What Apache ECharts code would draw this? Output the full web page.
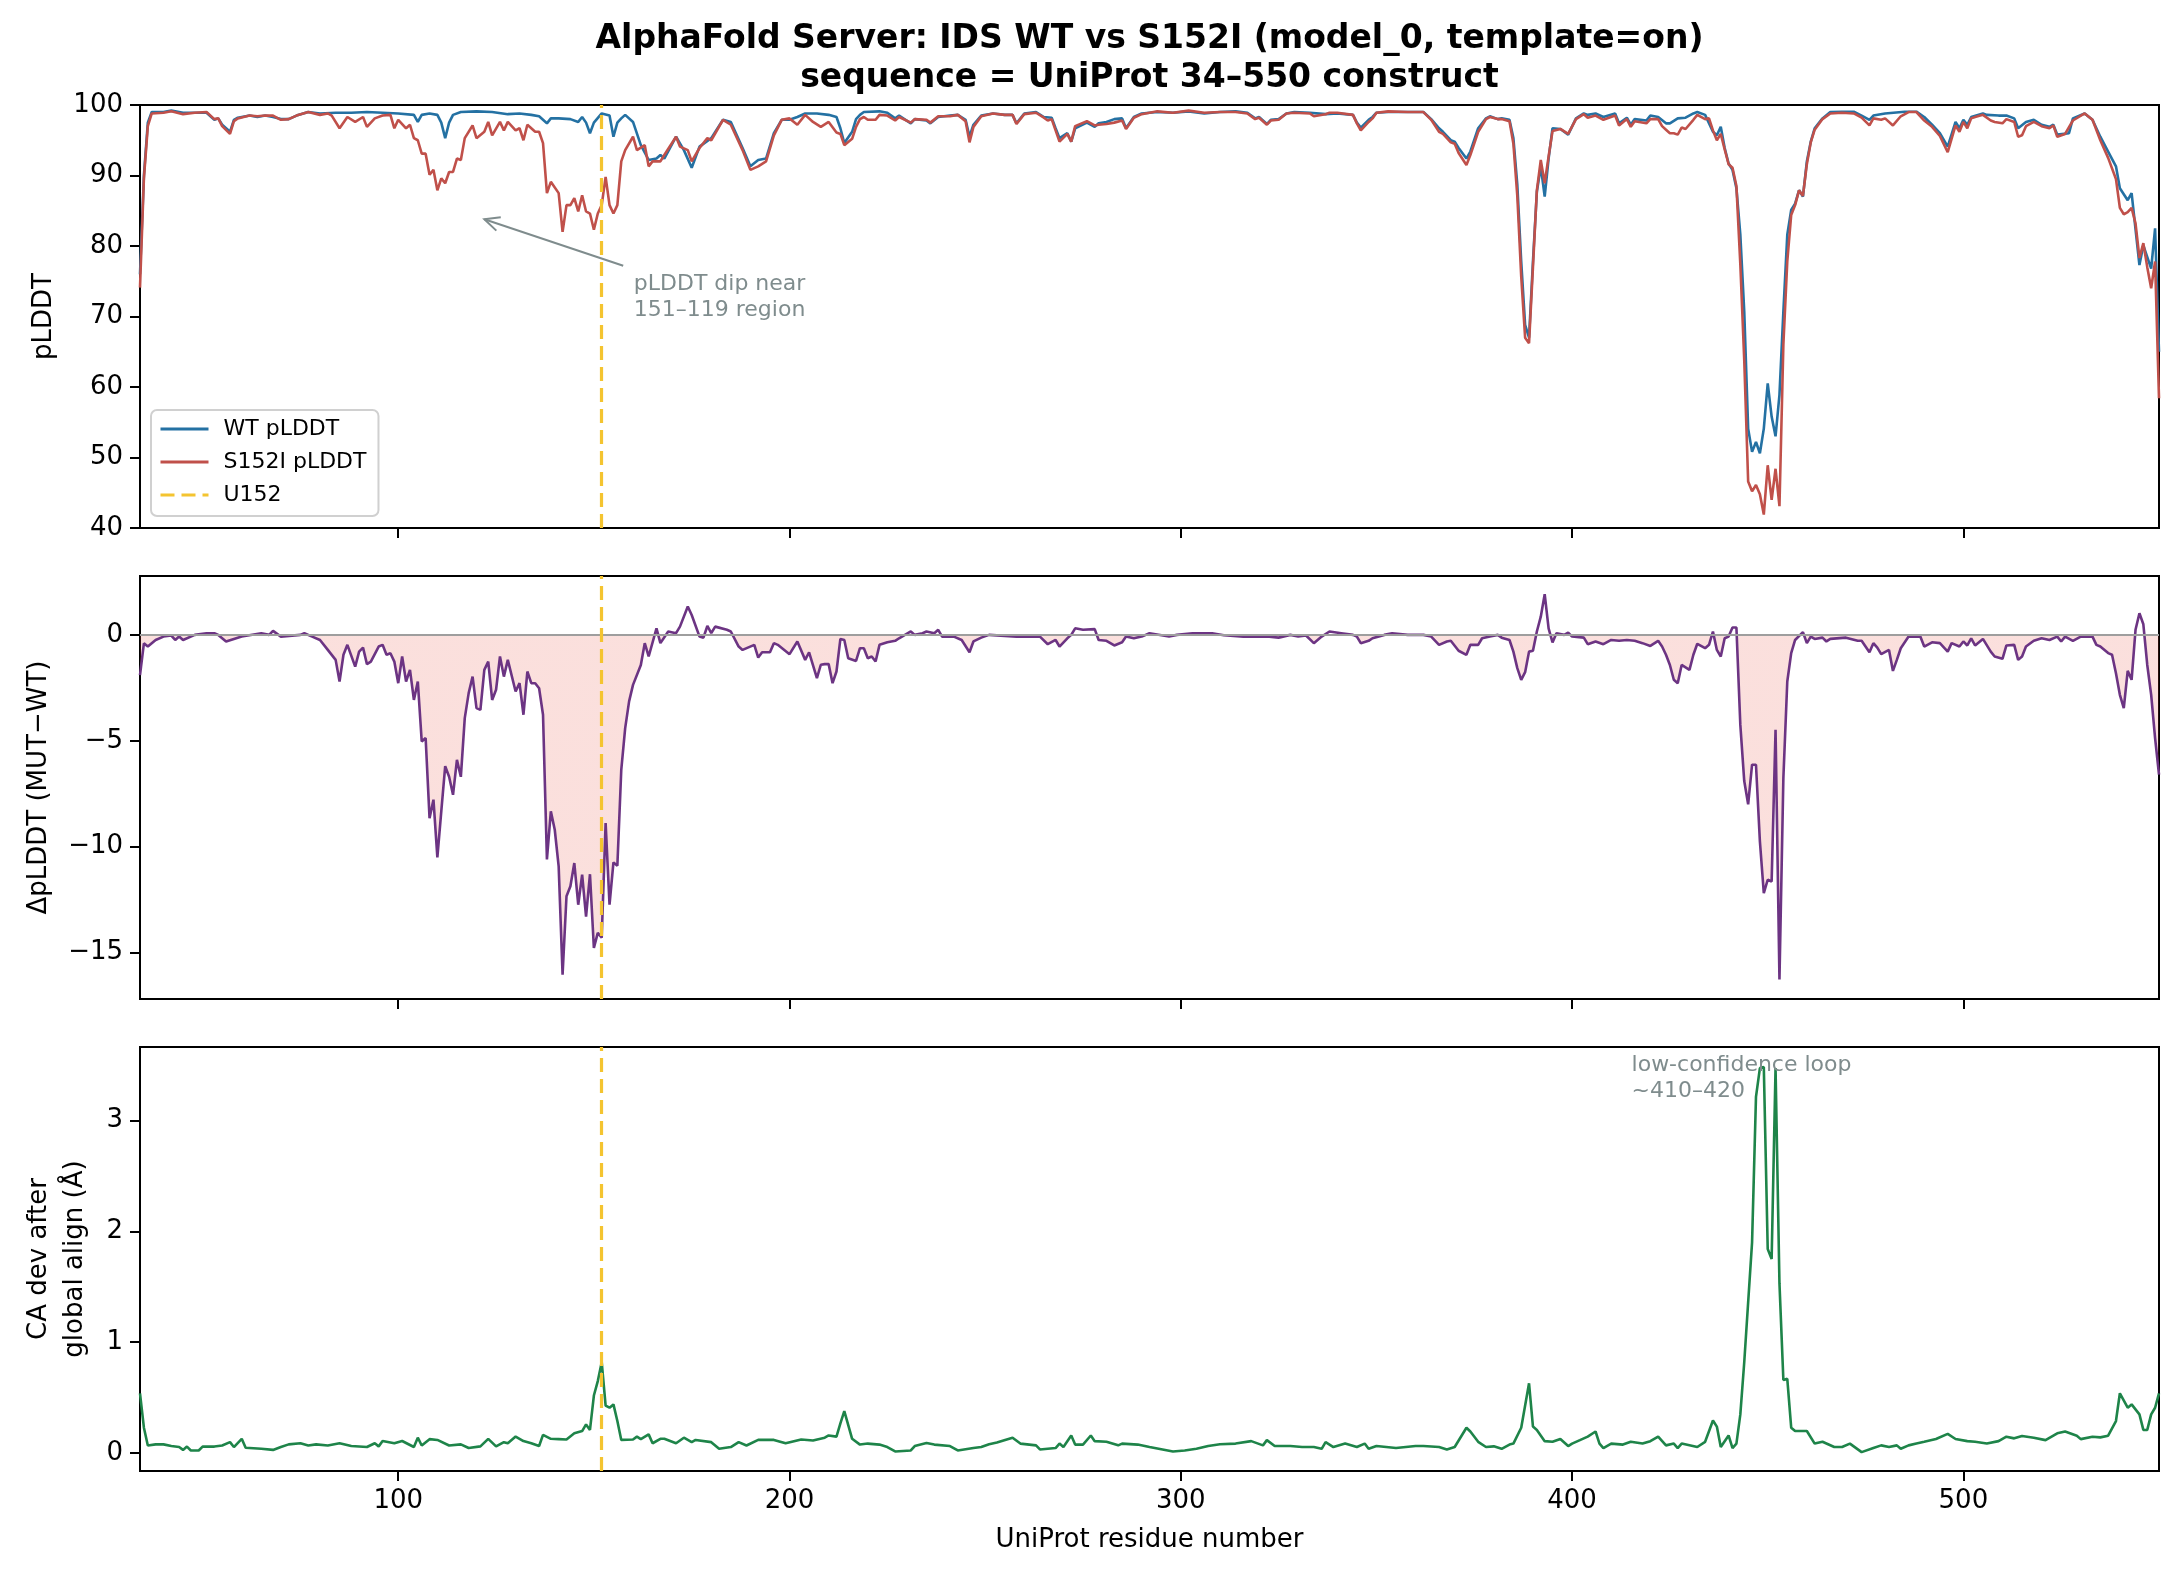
<!DOCTYPE html>
<html>
<head>
<meta charset="utf-8">
<title>AlphaFold Server: IDS WT vs S152I</title>
<script src="https://cdn.jsdelivr.net/npm/echarts@6/dist/echarts.min.js"></script>
<style>
  html, body { margin: 0; padding: 0; background: #fff; }
  #chart { width: 2179px; height: 1577px; }
</style>
</head>
<body>
<div id="chart"></div>
<script>
// --- data ([residue, value]) ---
const xTicks = [100, 200, 300, 400, 500];
const deltaTicks = [-15, -10, -5, 0];
const caTicks = [0, 1, 2, 3];
const mutationSite = 152;

const wtPlddt = [
  [34,76],[35,90],[36,97.5],[37,99],[40,99],[42,99.2],[45,98.9],[48,98.9],[51,98.9],[53,97.9],[54,98.1],[55,97.2],[57,96.2],[58,97.9],[59,98.2],
  [62,98.5],[64,98.3],[66,98.5],[68,98.3],[70,98],[72,98],[74,98.5],[77,99],[80,98.8],[84,98.9],[88,98.9],[92,99],[96,98.9],[100,98.8],
  [104,98.6],[105,97.6],[106,98.6],[108,98.8],[110,98.6],[111,97.5],[112,95.3],[113,97.5],[114,98.6],[116,99],[120,99.1],[124,99],[128,98.7],
  [131,98.8],[134,98.6],[136,98.4],[138,97.4],[139,98.1],[141,98.1],[144,98],[146,97.6],[147,98.3],[148,97.5],[149,96],[150,97.5],[152,98.8],
  [154,98.5],[155,95.5],[156,97.5],[157,98.1],[158,98.6],[160,97.6],[162,94.3],[164,92.2],[166,92.4],[167,92.9],[168,92.4],[171,95.5],[173,93.6],
  [175,91.1],[177,94.1],[180,95.3],[183,97.9],[185,97.6],[188,93.9],[190,91.3],[192,92.2],[194,92.4],[196,96],[198,97.9],[200,97.9],[202,98.3],
  [204,98.8],[207,98.8],[210,98.6],[212,98.3],[213,96.7],[214,94.6],[216,96.2],[217,98],[218,98.6],[219,99],[223,99.1],[225,98.9],[227,98.1],
  [228,98.5],[231,97.4],[232,98],[235,97.8],[236,97.4],[238,98.3],[241,98.5],[243,98.6],[245,97.9],[246,95.5],[247,97.2],[249,98.5],[252,98.8],
  [255,98.6],[257,98.6],[258,97.4],[260,98.8],[263,99],[265,98.3],[267,98.2],[268,96.7],[269,95.3],[271,96],[272,94.8],[273,96.7],[276,97.5],
  [278,96.9],[279,97.4],[281,97.6],[283,98],[285,98.1],[286,96.7],[288,98.3],[290,98.8],[294,99],[298,98.9],[302,99.1],[306,98.8],[310,99],
  [314,99.1],[317,98.9],[319,98.1],[320,98.3],[322,97.3],[323,97.9],[325,98],[327,98.8],[329,99],[333,98.9],[337,98.7],[340,98.8],[344,98.6],
  [345,97.5],[346,96.8],[348,97.9],[349,98.3],[350,98.9],[353,99],[358,99],[362,99],[364,98],[366,96.7],[367,96.2],[369,95],[370,94.8],
  [371,93.9],[373,92.4],[374,93.4],[376,96.7],[378,98.1],[379,98.4],[381,98],[382,98.1],[384,97.9],[385,95.3],[386,88.7],[387,77.8],[388,68.8],
  [389,67],[390,77.8],[391,87.7],[392,91.3],[393,87],[394,92.4],[395,96.7],[397,96.6],[399,95.8],[401,98.1],[403,98.8],[404,98.6],[406,98.8],
  [408,98.3],[411,98.8],[412,97.4],[414,98.2],[415,97.2],[416,98],[419,97.8],[420,98.5],[422,98.3],[424,97.4],[425,97.4],[427,98.1],[429,98.2],
  [431,98.8],[432,99],[434,98.6],[436,96.2],[437,95.7],[438,96.9],[439,93.9],[440,91.7],[441,90.8],[442,88.2],[443,81.6],[444,70.7],[445,54.1],
  [446,50.8],[447,52.2],[448,50.6],[449,54.1],[450,60.5],[451,55.8],[452,53],[453,58.9],[454,70.7],[455,81.6],[456,85.1],[457,86],[458,87.9],
  [459,87],[460,92],[461,94.8],[462,96.7],[464,98.1],[466,99],[469,99.05],[472,99.05],[474,98.5],[476,97.9],[477,98.5],[480,98.8],[485,99.05],
  [488,99.05],[490,98.3],[492,97.2],[494,96],[496,94.1],[498,97.6],[499,96.7],[500,97.9],[501,97.2],[502,98.3],[505,98.8],[506,98.6],[509,98.5],
  [511,98.5],[513,98.1],[514,96.7],[516,97.6],[518,97.9],[520,97.2],[522,96.9],[523,97.2],[524,95.8],[527,96],[528,98.1],[531,98.8],[533,97.9],
  [535,95.5],[537,93.4],[539,91.3],[540,88.2],[542,86.5],[543,87.5],[545,77.3],[546,80.1],[548,76.8],[549,82.5],[550,65]
];

const mutPlddt = [
  [34,74.1],[35,89.6],[36,97],[37,98.8],[40,98.9],[42,99.1],[45,98.7],[48,98.9],[51,99],[53,98],[54,98.1],[55,97],[57,95.9],[58,97.7],[59,98.1],
  [62,98.5],[64,98.4],[66,98.5],[68,98.5],[70,97.9],[72,98],[74,98.5],[77,99],[80,98.6],[82,98.8],[83,98.5],[85,96.7],[87,98.3],[89,97.6],
  [91,98.3],[92,96.9],[94,98.1],[96,98.5],[98,98.6],[99,96.7],[100,97.9],[102,96.7],[103,97.2],[104,95.3],[105,95],[106,93.1],[107,93.1],
  [108,90.1],[109,90.8],[110,87.9],[111,89.6],[112,88.9],[113,90.5],[114,90.5],[115,92.4],[116,92.2],[117,95.3],[119,97.1],[120,95.3],[122,96.2],
  [123,97.6],[124,95.7],[126,97.6],[127,96.4],[128,97.6],[130,96.4],[131,96.7],[132,95],[133,97.2],[135,96.2],[136,96.2],[137,94.6],[138,87.5],
  [139,89.1],[141,87.5],[142,82],[143,85.8],[144,85.8],[145,86.8],[146,84.9],[147,87.2],[148,84.9],[149,84.6],[150,82.3],[151,84.6],[152,85.8],
  [153,89.8],[154,85.8],[155,84.6],[156,85.8],[157,92],[158,93.6],[160,95.5],[161,93.6],[163,94.3],[164,91.3],[165,92],[167,92],[168,92.9],
  [171,95.5],[172,94.1],[174,93.6],[175,92],[177,93.9],[179,95.3],[180,95],[183,97.9],[185,97.2],[188,93.6],[190,90.8],[192,91.3],[194,92],
  [196,95.7],[198,97.9],[200,98.1],[202,97.2],[204,98.6],[206,97.6],[208,96.9],[210,97.6],[212,96.1],[213,95.9],[214,94.3],[216,95.2],[217,96.9],
  [218,98],[219,98.3],[220,97.9],[222,97.9],[223,98.6],[225,98.5],[227,97.8],[228,98.3],[231,97.5],[232,98],[235,97.9],[236,97.5],[238,98.4],
  [241,98.4],[243,98.6],[245,97.7],[246,94.7],[247,96.9],[249,98.4],[252,98.8],[255,98.6],[257,98.6],[258,97.3],[260,98.7],[263,98.9],[265,98.2],
  [266,97.8],[267,98],[268,96.4],[269,94.8],[271,95.9],[272,94.8],[273,97],[276,97.7],[278,97.1],[279,97.2],[281,97.3],[283,97.5],[285,97.8],
  [286,96.6],[288,98.2],[290,98.7],[294,99.1],[298,98.9],[302,99.2],[306,98.9],[310,99],[314,99],[317,98.8],[319,98],[320,98.2],[322,97.2],
  [323,97.8],[325,97.9],[327,98.8],[329,98.9],[333,98.8],[334,98.4],[337,98.7],[338,98.9],[340,98.9],[344,98.6],[345,97.4],[346,96.4],[348,97.6],
  [349,98.1],[350,98.9],[353,99.1],[358,99],[362,99],[364,97.9],[366,96.2],[367,95.9],[369,94.7],[370,94.5],[371,93.2],[373,91.5],[374,92.9],
  [376,96.2],[378,98],[379,98.3],[381,98],[382,98],[384,97.7],[385,94.5],[386,87.1],[387,75.7],[388,67],[389,66.2],[390,77],[391,87.9],[392,92.2],
  [393,88.9],[394,92.7],[395,96.3],[397,96.6],[399,95.9],[401,98],[403,98.7],[404,98.2],[406,98.5],[408,97.9],[411,98.5],[412,97.1],[414,98],
  [415,96.9],[416,97.7],[419,97.4],[420,98],[422,98],[423,97],[424,96.5],[425,96],[426,96],[427,95.8],[428,96.8],[429,96.6],[431,97.9],[432,98.6],
  [434,98],[435,98.1],[436,96.4],[437,95],[438,95.9],[439,93.7],[440,91.6],[441,91.1],[442,88.5],[443,77.4],[444,63.8],[445,46.6],[446,45.2],
  [447,46.1],[448,44.8],[449,41.9],[450,48.9],[451,44],[452,48.4],[453,43.1],[454,66],[455,77.8],[456,84.4],[457,85.8],[458,87.9],[459,87.1],
  [460,91.6],[461,94.7],[462,96.5],[464,98],[466,98.8],[469,98.9],[472,98.8],[474,98.2],[476,97.1],[477,98.1],[479,97.9],[480,98.1],[482,97.1],
  [484,98.4],[486,99],[488,99],[490,97.8],[492,96.9],[494,95.6],[496,93.3],[498,97.1],[499,96.2],[500,97.6],[501,96.7],[502,98.1],[503,98.3],
  [505,98.6],[507,97.8],[508,97.6],[510,97.4],[511,98],[513,97.6],[514,95.5],[515,95.7],[516,97],[518,97.6],[520,97],[522,96.7],[523,97.1],
  [524,95.5],[526,95.9],[528,97.8],[531,98.8],[533,97.9],[535,95],[537,92.5],[539,89.5],[540,85.4],[541,84.5],[542,84.8],[543,85.4],[544,83.2],
  [545,78.3],[546,80.4],[547,77],[548,74],[549,77.8],[550,58.4]
];

const deltaPlddt = [
  [34,-1.9],[35,-0.4],[36,-0.55],[38,-0.24],[40,-0.08],[42,-0.03],[43,-0.24],[44,-0.08],[45,-0.24],[48,0],[51,0.08],[53,0.08],[54,0],[56,-0.31],
  [58,-0.19],[60,-0.08],[65,0.08],[67,0],[68,0.19],[70,-0.08],[75,0],[76,0.08],[78,-0.08],[80,-0.24],[82,-0.71],[84,-1.18],[85,-2.2],[86,-0.94],
  [87,-0.47],[89,-1.5],[90,-0.79],[91,-0.6],[92,-1.38],[93,-1.26],[95,-0.55],[96,-0.47],[97,-0.94],[98,-0.87],[99,-1.26],[100,-2.28],[101,-1.02],
  [102,-2.2],[103,-1.65],[104,-3.07],[105,-2.2],[106,-5.03],[107,-4.87],[108,-8.65],[109,-7.78],[110,-10.5],[111,-8.33],[112,-6.2],[113,-6.7],
  [114,-7.55],[115,-5.9],[116,-6.7],[117,-3.93],[118,-2.75],[119,-1.97],[120,-3.46],[121,-3.54],[122,-1.65],[123,-1.26],[124,-3.07],[125,-2.59],
  [126,-1.02],[127,-1.97],[128,-1.18],[130,-2.67],[131,-2.28],[132,-3.77],[133,-1.73],[134,-2.28],[135,-2.28],[136,-2.52],[137,-3.77],[138,-10.6],
  [139,-8.33],[140,-9.2],[141,-10.93],[142,-16.04],[143,-12.34],[144,-11.87],[145,-10.77],[146,-12.74],[147,-11.32],[148,-13.3],[149,-11.3],
  [150,-14.78],[151,-14.07],[152,-14.3],[153,-8.88],[154,-12.74],[155,-10.74],[156,-10.9],[157,-6.37],[158,-4.4],[159,-3.14],[160,-2.36],
  [162,-1.42],[163,-0.39],[164,-1.02],[166,0.31],[167,-0.39],[169,0.16],[171,0.08],[172,0.39],[174,1.34],[175,0.94],[177,-0.08],[178,-0.13],
  [179,0.42],[180,0.08],[181,0.39],[184,0.24],[185,0.16],[187,-0.55],[188,-0.71],[191,-0.47],[192,-1.07],[193,-0.82],[195,-0.82],[196,-0.39],
  [197,-0.47],[200,-0.91],[202,-0.31],[204,-1.18],[205,-0.82],[207,-2.04],[208,-1.41],[209,-1.38],[210,-1.38],[211,-2.28],[212,-1.73],[213,-0.19],
  [214,-0.24],[215,-1.1],[217,-1.23],[218,-0.63],[219,-0.63],[220,-1.1],[221,-1.02],[222,-1.26],[223,-0.47],[225,-0.35],[227,-0.28],[228,-0.16],
  [231,0.16],[232,0],[234,0.08],[235,0.16],[237,0.08],[238,0.24],[239,-0.08],[242,-0.08],[244,-0.24],[246,-0.82],[247,-0.31],[249,-0.13],[251,0],
  [258,-0.08],[264,-0.08],[266,-0.44],[268,-0.24],[269,-0.55],[271,-0.16],[272,0],[273,0.31],[275,0.24],[278,0.27],[279,-0.24],[281,-0.28],
  [283,-0.5],[285,-0.35],[286,-0.08],[288,-0.16],[290,-0.08],[292,0.08],[297,-0.08],[299,0],[303,0.08],[305,0.08],[308,0.08],[311,-0.02],
  [316,-0.08],[322,-0.08],[325,-0.13],[328,0],[330,-0.08],[332,-0.03],[334,-0.39],[336,-0.08],[338,0.16],[341,0.08],[344,0],[345,-0.08],
  [346,-0.39],[348,-0.28],[349,-0.16],[352,0],[354,0.08],[358,0],[362,0],[364,-0.08],[366,-0.47],[368,-0.31],[369,-0.28],[371,-0.75],[373,-0.94],
  [374,-0.47],[376,-0.47],[377,-0.16],[379,-0.08],[381,0],[382,-0.13],[384,-0.24],[385,-0.79],[386,-1.57],[387,-2.12],[388,-1.76],[389,-0.79],
  [390,-0.75],[391,0.16],[392,0.86],[393,1.92],[394,0.31],[395,-0.36],[396,0.08],[398,0],[399,0.11],[400,-0.08],[403,-0.13],[404,-0.44],
  [406,-0.31],[408,-0.44],[410,-0.24],[412,-0.28],[414,-0.24],[416,-0.28],[418,-0.39],[420,-0.52],[422,-0.28],[423,-0.55],[424,-0.94],[425,-1.42],
  [426,-2.12],[427,-2.28],[428,-1.42],[430,-1.65],[431,-0.94],[432,-0.42],[434,-0.63],[435,-0.47],[436,0.16],[437,-0.71],[438,-1.02],[439,-0.16],
  [440,-0.08],[441,0.35],[442,0.35],[443,-4.25],[444,-6.9],[445,-8],[446,-6.13],[447,-6.13],[448,-9.75],[449,-12.19],[450,-11.56],[451,-11.64],
  [452,-4.48],[453,-16.27],[454,-6.76],[455,-2.2],[456,-0.86],[457,-0.24],[459,0.13],[460,-0.39],[461,-0.08],[462,-0.19],[464,-0.13],[465,-0.31],
  [466,-0.19],[470,-0.13],[473,-0.28],[474,-0.28],[476,-0.82],[477,-0.39],[478,-0.6],[479,-0.91],[481,-0.71],[482,-1.7],[483,-1.18],[484,-0.63],
  [486,-0.08],[489,-0.08],[490,-0.55],[492,-0.35],[494,-0.39],[496,-0.79],[497,-0.39],[499,-0.55],[500,-0.31],[501,-0.5],[502,-0.16],[503,-0.5],
  [505,-0.19],[507,-0.79],[508,-1.02],[510,-1.13],[511,-0.5],[513,-0.47],[514,-1.18],[515,-1.02],[516,-0.55],[518,-0.28],[520,-0.16],[522,-0.24],
  [524,-0.08],[525,-0.31],[526,-0.08],[528,-0.28],[530,-0.08],[533,-0.08],[534,-0.47],[535,-0.55],[537,-0.86],[538,-0.94],[539,-1.81],[540,-2.83],
  [541,-3.46],[542,-1.7],[543,-2.12],[544,0.24],[545,1.02],[546,0.5],[547,-1.42],[548,-2.83],[549,-4.87],[550,-6.6]
];

const caDev = [
  [34,0.54],[35,0.23],[36,0.07],[38,0.08],[40,0.08],[42,0.065],[44,0.056],[45,0.03],[46,0.06],[47,0.025],[49,0.025],[50,0.06],[53,0.06],[55,0.07],
  [57,0.1],[58,0.056],[60,0.13],[61,0.05],[65,0.04],[68,0.03],[70,0.056],[72,0.08],[75,0.09],[77,0.07],[79,0.08],[82,0.07],[85,0.09],[88,0.065],
  [92,0.056],[94,0.09],[95,0.062],[96,0.11],[99,0.09],[101,0.11],[104,0.056],[105,0.14],[106,0.07],[108,0.127],[110,0.12],[113,0.07],[116,0.08],
  [118,0.047],[121,0.062],[123,0.13],[125,0.062],[127,0.1],[128,0.09],[130,0.15],[132,0.11],[134,0.09],[136,0.065],[137,0.165],[139,0.13],
  [141,0.127],[143,0.124],[145,0.18],[147,0.2],[148,0.26],[149,0.21],[150,0.52],[151,0.65],[152,0.82],[153,0.43],[154,0.41],[155,0.44],[156,0.29],
  [157,0.12],[160,0.124],[161,0.15],[162,0.127],[164,0.17],[165,0.09],[167,0.13],[168,0.13],[171,0.09],[173,0.14],[175,0.1],[176,0.12],[180,0.1],
  [182,0.04],[185,0.056],[187,0.1],[189,0.07],[192,0.12],[196,0.12],[199,0.09],[203,0.124],[206,0.115],[209,0.14],[210,0.16],[212,0.15],[213,0.27],
  [214,0.38],[216,0.13],[218,0.078],[220,0.087],[223,0.078],[225,0.056],[227,0.016],[231,0.025],[232,0.065],[235,0.093],[237,0.078],[241,0.065],
  [243,0.025],[247,0.047],[249,0.056],[251,0.081],[253,0.096],[257,0.14],[259,0.087],[263,0.071],[264,0.034],[268,0.047],[269,0.087],[270,0.056],
  [272,0.16],[273,0.078],[275,0.078],[277,0.16],[278,0.109],[281,0.103],[284,0.071],[285,0.087],[289,0.078],[292,0.056],[298,0.016],[301,0.025],
  [304,0.04],[307,0.065],[310,0.081],[314,0.087],[318,0.109],[321,0.071],[322,0.118],[324,0.065],[328,0.065],[331,0.056],[334,0.056],[336,0.04],
  [337,0.1],[339,0.056],[342,0.087],[345,0.056],[347,0.087],[348,0.04],[350,0.065],[355,0.047],[360,0.065],[362,0.065],[366,0.056],[368,0.034],
  [370,0.056],[373,0.23],[374,0.196],[376,0.103],[378,0.056],[380,0.062],[382,0.04],[384,0.078],[385,0.087],[387,0.23],[389,0.63],[390,0.24],
  [391,0.21],[393,0.109],[395,0.103],[397,0.128],[399,0.065],[400,0.087],[402,0.118],[404,0.15],[406,0.196],[407,0.087],[408,0.047],[410,0.087],
  [413,0.078],[415,0.103],[418,0.087],[420,0.109],[422,0.15],[424,0.071],[426,0.087],[427,0.047],[428,0.087],[432,0.056],[434,0.103],[436,0.295],
  [437,0.24],[438,0.056],[440,0.16],[441,0.047],[442,0.087],[443,0.35],[444,0.82],[446,1.9],[447,3.21],[448,3.47],[449,3.48],[450,1.84],[451,1.75],
  [452,3.47],[453,1.53],[454,0.66],[455,0.67],[456,0.23],[457,0.2],[460,0.2],[462,0.087],[464,0.103],[467,0.056],[469,0.056],[471,0.087],[474,0.01],
  [477,0.047],[479,0.071],[481,0.056],[483,0.071],[484,0.04],[486,0.071],[488,0.087],[490,0.103],[493,0.128],[496,0.174],[498,0.128],[501,0.109],
  [503,0.103],[506,0.087],[509,0.109],[511,0.149],[513,0.134],[515,0.155],[518,0.14],[521,0.118],[524,0.18],[526,0.196],[529,0.158],[530,0.127],
  [533,0.149],[535,0.143],[537,0.158],[539,0.29],[540,0.54],[542,0.41],[543,0.44],[545,0.35],[546,0.21],[547,0.21],[548,0.35],[549,0.41],[550,0.54]
];

// annotation anchors, in data coordinates
const arrowFrom = [157.5, 77.2];
const arrowTo = [122, 83.8];
const dipNoteAt = [160.2, 76.4];
const loopNoteAt = [415.2, 3.61];

// --- chart ---
var FONT = 'DejaVu Sans';
var BLUE = '#2471a3', RED = '#c0504a', PURPLE = '#6c3483', GREEN = '#1e8449';
var YELLOW = '#f4c430', GREY_TXT = '#7f8c8d', FILL = 'rgba(231,76,60,0.25)';
var LW = 2.6;

var chart = echarts.init(document.getElementById('chart'), null, { renderer: 'canvas' });

var grids = [
  { left: 140, right: 20, top: 105, height: 423 },
  { left: 140, right: 20, top: 576, height: 423 },
  { left: 140, right: 20, top: 1047, height: 424 }
];
grids.forEach(function (g) { g.show = true; g.borderColor = '#000'; g.borderWidth = 2; g.backgroundColor = 'transparent'; });

function minus(v) { return v < 0 ? '\u2212' + Math.abs(v) : String(v); }

var xAxes = [0, 1, 2].map(function (i) {
  return {
    type: 'value', gridIndex: i, min: 34, max: 550,
    axisLine: { show: true, onZero: false, lineStyle: { color: '#000', width: 2 } },
    axisTick: { show: true, length: 10, lineStyle: { color: '#000', width: 2 }, customValues: xTicks },
    axisLabel: { show: i === 2, customValues: xTicks, fontSize: 26, fontFamily: FONT, color: '#000', margin: 17 },
    splitLine: { show: false },
    name: i === 2 ? 'UniProt residue number' : '',
    nameLocation: 'middle', nameGap: 56,
    nameTextStyle: { fontSize: 26, fontFamily: FONT, color: '#000' }
  };
});

function yAxis(i, opt) {
  return Object.assign({
    type: 'value', gridIndex: i,
    axisLine: { show: true, onZero: false, lineStyle: { color: '#000', width: 2 } },
    axisTick: { show: true, length: 10, lineStyle: { color: '#000', width: 2 } },
    axisLabel: { fontSize: 26, fontFamily: FONT, color: '#000', margin: 17, formatter: minus },
    splitLine: { show: false },
    nameLocation: 'middle', nameRotate: 90,
    nameTextStyle: { fontSize: 26, fontFamily: FONT, color: '#000', lineHeight: 36 }
  }, opt);
}

var yAxes = [
  yAxis(0, { min: 40, max: 100, interval: 10, name: 'pLDDT', nameGap: 78 }),
  yAxis(1, { min: -17.19, max: 2.78, name: '\u0394pLDDT (MUT\u2212WT)', nameGap: 78 }),
  yAxis(2, { min: -0.16, max: 3.66, name: 'CA dev after\nglobal align (\u00c5)', nameGap: 47 })
];
yAxes[1].axisTick.customValues = deltaTicks;
yAxes[1].axisLabel.customValues = deltaTicks;
yAxes[2].axisTick.customValues = caTicks;
yAxes[2].axisLabel.customValues = caTicks;

function siteLine() {
  return {
    silent: true, symbol: ['none', 'none'], label: { show: false }, animation: false,
    lineStyle: { color: YELLOW, type: [14, 7], width: 3.2 },
    data: [{ xAxis: mutationSite }]
  };
}

var option = {
  animation: false,
  backgroundColor: '#fff',
  grid: grids,
  xAxis: xAxes,
  yAxis: yAxes,
  legend: {
    data: ['WT pLDDT', 'S152I pLDDT', 'U152'],
    orient: 'vertical', left: 151, top: 410,
    itemWidth: 48, itemHeight: 22, itemGap: 11,
    itemStyle: { opacity: 0 },
    lineStyle: { width: 3 },
    padding: [8, 12, 10, 8],
    backgroundColor: 'rgba(255,255,255,0.85)',
    borderColor: '#d0d0d0', borderWidth: 2, borderRadius: 6,
    textStyle: { fontSize: 22, fontFamily: FONT, color: '#000', padding: [0, 0, 0, 10] },
    selectedMode: false
  },
  series: [
    {
      name: 'WT pLDDT', type: 'line', xAxisIndex: 0, yAxisIndex: 0, data: wtPlddt,
      symbol: 'none', color: BLUE, lineStyle: { color: BLUE, width: LW }, z: 2
    },
    {
      name: 'S152I pLDDT', type: 'line', xAxisIndex: 0, yAxisIndex: 0, data: mutPlddt,
      symbol: 'none', color: RED, lineStyle: { color: RED, width: LW }, z: 3
    },
    {
      name: 'U152', type: 'line', xAxisIndex: 0, yAxisIndex: 0, data: [],
      symbol: 'none', color: YELLOW, lineStyle: { color: YELLOW, width: 4, type: [14, 7] }, z: 4,
      markLine: siteLine()
    },
    {
      id: 'delta', name: 'delta', type: 'line', xAxisIndex: 1, yAxisIndex: 1, data: deltaPlddt,
      symbol: 'none', color: PURPLE, lineStyle: { color: PURPLE, width: LW }, z: 3,
      areaStyle: { color: FILL, origin: 0 },
      markLine: {
        silent: true, symbol: ['none', 'none'], label: { show: false }, animation: false,
        data: [
          { yAxis: 0, lineStyle: { color: '#9e9e9e', width: 2, type: 'solid' } },
          { xAxis: mutationSite, lineStyle: { color: YELLOW, type: [14, 7], width: 3.2 } }
        ]
      }
    },
    {
      name: 'ca', type: 'line', xAxisIndex: 2, yAxisIndex: 2, data: caDev,
      symbol: 'none', color: GREEN, lineStyle: { color: GREEN, width: LW }, z: 3,
      markLine: siteLine()
    }
  ]
};

chart.setOption(option);

// shade only the part of the delta area below zero (pixel-space gradient split at y = 0)
var gTop = grids[1].top, gBot = grids[1].top + grids[1].height;
var zeroY = chart.convertToPixel({ yAxisIndex: 1 }, 0);
var cut = (zeroY - gTop) / (gBot - gTop);
chart.setOption({
  series: [{
    id: 'delta',
    areaStyle: {
      origin: 0,
      color: new echarts.graphic.LinearGradient(0, gTop, 0, gBot, [
        { offset: 0, color: 'rgba(231,76,60,0)' },
        { offset: cut, color: 'rgba(231,76,60,0)' },
        { offset: cut, color: FILL },
        { offset: 1, color: FILL }
      ], true)
    }
  }]
});

// title + annotations, placed through the axes
var tail = chart.convertToPixel({ xAxisIndex: 0, yAxisIndex: 0 }, arrowFrom);
var head = chart.convertToPixel({ xAxisIndex: 0, yAxisIndex: 0 }, arrowTo);
var dipPos = chart.convertToPixel({ xAxisIndex: 0, yAxisIndex: 0 }, dipNoteAt);
var loopPos = chart.convertToPixel({ xAxisIndex: 2, yAxisIndex: 2 }, loopNoteAt);

var dx = head[0] - tail[0], dy = head[1] - tail[1];
var len = Math.sqrt(dx * dx + dy * dy);
var ux = dx / len, uy = dy / len;
var hl = 15, hw = 7;
var wing1 = [head[0] - ux * hl - uy * hw, head[1] - uy * hl + ux * hw];
var wing2 = [head[0] - ux * hl + uy * hw, head[1] - uy * hl - ux * hw];

var midX = (140 + 2159) / 2;

chart.setOption({
  graphic: [
    { type: 'text', id: 't1', x: midX, y: 39, z: 10,
      style: { text: 'AlphaFold Server: IDS WT vs S152I (model_0, template=on)', font: 'bold 33px "DejaVu Sans"',
        fill: '#000', align: 'center', verticalAlign: 'middle' } },
    { type: 'text', id: 't2', x: midX, y: 78, z: 10,
      style: { text: 'sequence = UniProt 34\u2013550 construct', font: 'bold 33px "DejaVu Sans"',
        fill: '#000', align: 'center', verticalAlign: 'middle' } },
    { type: 'line', id: 'arrowShaft', z: 10,
      shape: { x1: tail[0], y1: tail[1], x2: head[0], y2: head[1] },
      style: { stroke: GREY_TXT, lineWidth: 2 } },
    { type: 'polyline', id: 'arrowHead', z: 10,
      shape: { points: [wing1, head, wing2] },
      style: { stroke: GREY_TXT, lineWidth: 2, fill: null } },
    { type: 'text', id: 'dipNote', x: dipPos[0], y: dipPos[1], z: 10,
      style: { text: 'pLDDT dip near\n151\u2013119 region', font: '22px "DejaVu Sans"', lineHeight: 26,
        fill: GREY_TXT, align: 'left', verticalAlign: 'top' } },
    { type: 'text', id: 'loopNote', x: loopPos[0], y: loopPos[1], z: 10,
      style: { text: 'low-confidence loop\n~410\u2013420', font: '22px "DejaVu Sans"', lineHeight: 26,
        fill: GREY_TXT, align: 'left', verticalAlign: 'top' } }
  ]
});
</script>
</body>
</html>
